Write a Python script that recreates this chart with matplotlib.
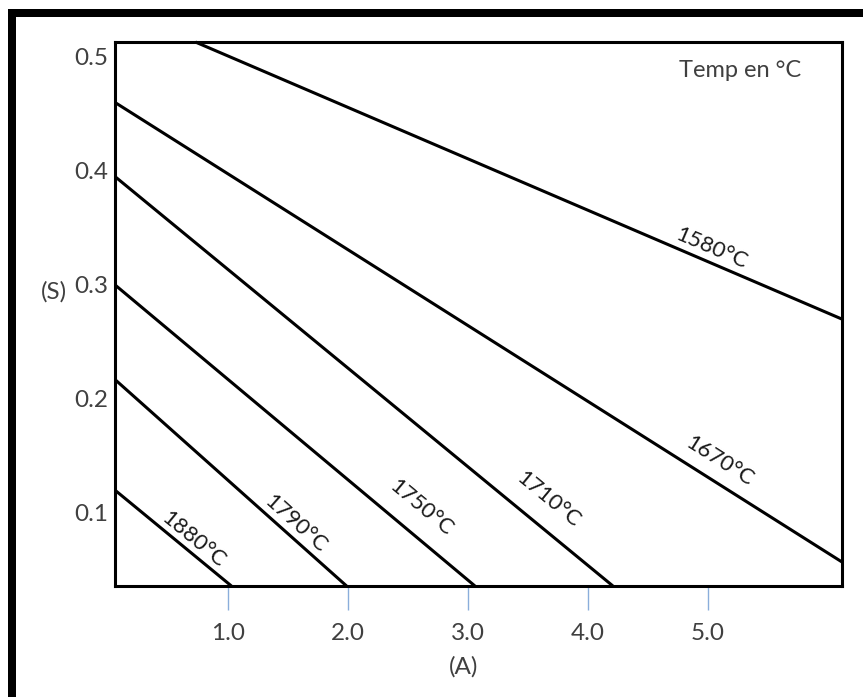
import numpy as np
import matplotlib
matplotlib.use("Agg")
import matplotlib.pyplot as plt
from matplotlib.patches import Rectangle

plt.rcParams["font.family"] = ["Lato", "DejaVu Sans"]

# isotherms: straight segments, (A) on x, (S) on y
temps = ["1580°C", "1670°C", "1710°C", "1750°C", "1790°C", "1880°C"]
a_start = [0.73, 0.06, 0.06, 0.06, 0.06, 0.06]
s_start = [0.513, 0.46, 0.395, 0.30, 0.217, 0.12]
a_end = [6.12, 6.12, 4.21, 3.06, 1.99, 1.03]
s_end = [0.270, 0.057, 0.036, 0.036, 0.036, 0.036]

# where the label of each isotherm sits
label_a = [5.03, 5.10, 3.67, 2.61, 1.56, 0.71]
label_s = [0.332, 0.145, 0.112, 0.105, 0.091, 0.0765]

x_ticks = [1.0, 2.0, 3.0, 4.0, 5.0]
y_ticks = [0.1, 0.2, 0.3, 0.4, 0.5]

fig = plt.figure(figsize=(8.63, 6.97), dpi=100)
ax = fig.add_axes([0.1333, 0.1593, 0.8424, 0.7804])
ax.set_xlim(0.06, 6.12)
ax.set_ylim(0.036, 0.513)

for i in range(len(temps)):
    ax.plot([a_start[i], a_end[i]], [s_start[i], s_end[i]],
            color="black", lw=2.2, solid_capstyle="butt", clip_on=False)

fig.canvas.draw()
for i in range(len(temps)):
    p0 = ax.transData.transform((a_start[i], s_start[i]))
    p1 = ax.transData.transform((a_end[i], s_end[i]))
    ang = np.degrees(np.arctan2(p1[1] - p0[1], p1[0] - p0[0]))
    ax.text(label_a[i], label_s[i], temps[i], rotation=ang,
            rotation_mode="anchor", ha="center", va="center",
            fontsize=16, color="#1a1a1a")

ax.set_xticks(x_ticks)
ax.set_xticklabels([f"{v:.1f}" for v in x_ticks])
ax.set_yticks(y_ticks)
ax.set_yticklabels([f"{v:.1f}" for v in y_ticks])
ax.tick_params(axis="x", direction="out", length=17.5, width=1,
               color="#8aaedb", pad=9, labelsize=17.5, labelcolor="#404040")
ax.tick_params(axis="y", length=0, pad=5, labelsize=17.5, labelcolor="#404040")

ax.set_xlabel("(A)", fontsize=17.5, color="#404040")
ax.xaxis.set_label_coords(0.479, -0.128)
ax.set_ylabel("(S)", fontsize=17.5, color="#404040", rotation=0,
              ha="center", va="center")
ax.yaxis.set_label_coords(-0.084, 0.54)

ax.text(0.86, 0.9485, "Temp en °C", transform=ax.transAxes,
        ha="center", va="center", fontsize=17, color="#404040")

for sp in ax.spines.values():
    sp.set_linewidth(2.2)
    sp.set_color("black")
    sp.set_zorder(3)

# black frame on top and left of the screenshot
fig.add_artist(Rectangle((0.00927, 0.9756), 1.0, 0.01148,
                         transform=fig.transFigure, color="black", lw=0))
fig.add_artist(Rectangle((0.00927, 0.0), 0.00927, 0.987,
                         transform=fig.transFigure, color="black", lw=0))

fig.savefig("out.png", dpi=100, facecolor="white")
